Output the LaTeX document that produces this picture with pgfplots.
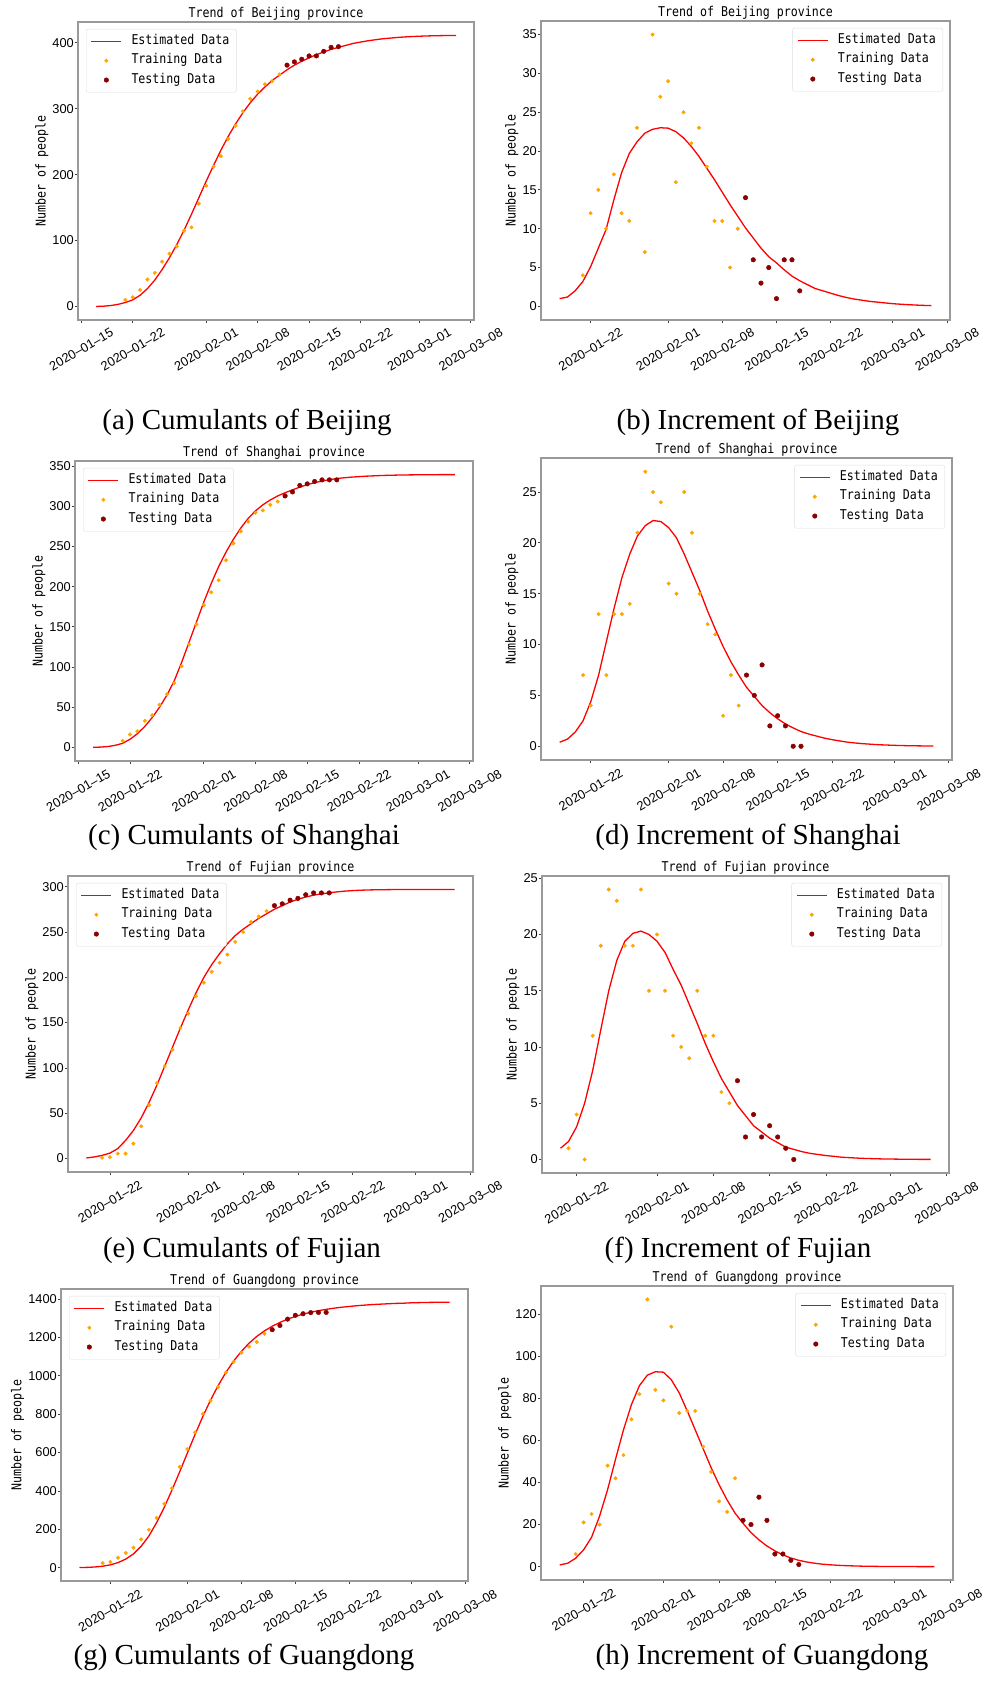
\documentclass[border=0pt]{standalone}
\usepackage{fontspec}
\setmainfont{Liberation Serif}
\newfontfamily\monofont[FakeStretch=0.86]{DejaVu Sans Mono}
\newfontfamily\tickfont{Liberation Sans}
\usepackage{graphicx}
\usepackage{pgfplots}
\pgfplotsset{compat=1.18}

\definecolor{trainorange}{HTML}{FFA500}
\definecolor{testred}{HTML}{8B0000}
\definecolor{framegray}{HTML}{999999}
\definecolor{legendgray}{HTML}{DDDDDD}

\newcommand{\labfont}{\monofont\fontsize{13.5}{15}\selectfont}
\newcommand{\numfont}{\tickfont\fontsize{12.8}{14}\selectfont}
\newcommand{\capfont}{\fontsize{29}{32}\selectfont}
\newcommand{\dl}[3]{\rotatebox{30}{#1\textendash#2\textendash#3}}

% x = days after 2020-01-15
\pgfplotsset{
  trend/.style={
    scale only axis,
    axis line style={framegray, line width=1.1pt},
    tick align=outside,
    xtick pos=left, ytick pos=left,
    major tick length=3.5pt,
    tick style={black!75, line width=0.8pt},
    xtick={0,7,17,24,31,38,46,53},
    xticklabels={\dl{2020}{01}{15},\dl{2020}{01}{22},\dl{2020}{02}{01},\dl{2020}{02}{08},\dl{2020}{02}{15},\dl{2020}{02}{22},\dl{2020}{03}{01},\dl{2020}{03}{08}},
    xticklabel style={font=\numfont, anchor=north, inner sep=4pt},
    yticklabel style={font=\numfont, anchor=east, inner sep=0.5pt, /pgf/number format/assume math mode=true, /pgf/number format/1000 sep={}},
    ylabel={Number of people},
    ylabel style={font=\labfont},
    title style={font=\labfont, at={(0.5,1)}, anchor=base, yshift=-1.5pt},
    legend style={font=\labfont, draw=legendgray, rounded corners=2pt, fill=white, row sep=1.8pt, column sep=7pt,
      inner xsep=4.5pt, inner ysep=3.5pt,
      nodes={inner sep=2.5pt, text height=9.5pt, text depth=3pt}},
    legend cell align=left,
    legend image code/.code={\draw[mark repeat=2,mark phase=2,##1] plot coordinates {(0pt,0pt) (15pt,0pt) (30pt,0pt)};},
    legend entries={Estimated Data, Training Data, Testing Data},
  },
  cum/.style={trend, legend style={at={(0,1)}, anchor=north west, xshift=8pt, yshift=-7pt}},
  inc/.style={trend, legend style={at={(1,1)}, anchor=north east, xshift=-7pt, yshift=-7pt}},
  est/.style={red, line width=1.3pt, no markers},
  train/.style={only marks, mark=*, mark size=1.8pt, draw=trainorange, fill=trainorange},
  test/.style={only marks, mark=*, mark size=2.3pt, draw=testred, fill=testred},
}

\begin{document}
\begin{tikzpicture}[x=1pt,y=1pt]
\useasboundingbox (0,0) rectangle (983,1686);

% (a) Beijing cumulative
\begin{axis}[cum, at={(78pt,1366pt)}, anchor=south west, width=396pt, height=298pt,
  xmin=-0.45, xmax=53.45, ymin=-20.5, ymax=431.5, ytick={0,100,...,400},
  title={Trend of Beijing province}]
\addplot[est] coordinates {(2,0)(3,0.4)(4,1.4)(5,3.2)(6,6)(7,10)(8,17)(9,27)(10,40)(11,56)(12,74)(13,94)(14,116)(15,140)(16,165)(17,190)(18,214)(19,237)(20,258)(21,277)(22,294)(23,309)(24,322)(25,333)(26,343)(27,351)(28,359)(29,366)(30,372)(31,377)(32,382)(33,386)(34,390)(35,393)(36,396)(37,399)(38,401)(39,403)(40,404.5)(41,406)(42,407)(43,408)(44,408.8)(45,409.4)(46,409.9)(47,410.3)(48,410.6)(49,410.8)(50,411)(51,411.1)};
\addplot[train] coordinates {(6,10)(7,14)(8,25)(9,41)(10,51)(11,68)(12,80)(13,91)(14,115)(15,120)(16,156)(17,183)(18,212)(19,228)(20,254)(21,274)(22,296)(23,315)(24,326)(25,337)(26,342)(27,352)};
\addplot[test] coordinates {(28,366)(29,371)(30,375)(31,380)(32,380)(33,387)(34,393)(35,394)};
\end{axis}

% (b) Beijing increment
\begin{axis}[inc, at={(541pt,1366pt)}, anchor=south west, width=409pt, height=299pt,
  xmin=0.6, xmax=53.4, ymin=-1.75, ymax=36.75, ytick={0,5,...,35},
  title={Trend of Beijing province}]
\addplot[est] coordinates {(3,1.0)(4,1.2)(5,2.0)(6,3.2)(7,5.1)(8,7.5)(9,9.9)(10,13.7)(11,17.2)(12,19.7)(13,21.2)(14,22.3)(15,22.8)(16,23.0)(17,22.95)(18,22.5)(19,21.7)(20,20.6)(21,19.3)(22,17.8)(23,16.3)(24,14.7)(25,13.1)(26,11.6)(27,10.1)(28,8.8)(29,7.5)(30,6.4)(31,5.6)(32,4.7)(33,3.9)(34,3.3)(35,2.8)(36,2.3)(37,2.0)(38,1.7)(39,1.4)(40,1.15)(41,0.95)(42,0.8)(43,0.65)(44,0.55)(45,0.45)(46,0.35)(47,0.28)(48,0.22)(49,0.17)(50,0.13)(51,0.1)};
\addplot[train] coordinates {(6,4)(7,12)(8,15)(9,10)(10,17)(11,12)(12,11)(13,23)(14,7)(15,35)(16,27)(17,29)(18,16)(19,25)(20,21)(21,23)(22,18)(23,11)(24,11)(25,5)(26,10)};
\addplot[test] coordinates {(27,14)(28,6)(29,3)(30,5)(31,1)(32,6)(33,6)(34,2)};
\end{axis}

% (c) Shanghai cumulative
\begin{axis}[cum, at={(75pt,925pt)}, anchor=south west, width=398pt, height=300pt,
  xmin=-0.45, xmax=53.45, ymin=-17, ymax=356.5, ytick={0,50,...,350},
  title={Trend of Shanghai province}]
\addplot[est] coordinates {(2,0)(3,0.3)(4,1)(5,2.5)(6,5)(7,10)(8,17)(9,26)(10,37)(11,50)(12,65)(13,83)(14,106)(15,131)(16,156)(17,181)(18,204)(19,225)(20,243)(21,259)(22,273)(23,285)(24,294.5)(25,302)(26,308)(27,313)(28,317)(29,320.5)(30,324)(31,327)(32,329.5)(33,331.5)(34,333.2)(35,334.6)(36,335.6)(37,336.4)(38,337)(39,337.6)(40,338)(41,338.4)(42,338.7)(43,338.9)(44,339.1)(45,339.2)(46,339.3)(47,339.4)(48,339.45)(49,339.5)(50,339.5)(51,339.5)};
\addplot[train] coordinates {(6,8)(7,16)(8,20)(9,33)(10,40)(11,53)(12,66)(13,80)(14,101)(15,128)(16,153)(17,177)(18,193)(19,208)(20,233)(21,254)(22,269)(23,281)(24,292)(25,295)(26,302)(27,306)};
\addplot[test] coordinates {(28,313)(29,318)(30,326)(31,328)(32,331)(33,333)(34,333)(35,333)};
\end{axis}

% (d) Shanghai increment
\begin{axis}[inc, at={(541pt,926pt)}, anchor=south west, width=411pt, height=302pt,
  xmin=0.6, xmax=53.4, ymin=-1.35, ymax=28.35, ytick={0,5,...,25},
  title={Trend of Shanghai province}]
\addplot[est] coordinates {(3,0.4)(4,0.7)(5,1.4)(6,2.5)(7,4.4)(8,7.0)(9,10.3)(10,13.6)(11,16.6)(12,18.9)(13,20.7)(14,21.7)(15,22.2)(16,22.1)(17,21.5)(18,20.5)(19,18.9)(20,17.1)(21,15.3)(22,13.3)(23,11.5)(24,9.8)(25,8.3)(26,7.0)(27,5.8)(28,4.9)(29,4.0)(30,3.3)(31,2.7)(32,2.2)(33,1.8)(34,1.45)(35,1.2)(36,1.0)(37,0.8)(38,0.65)(39,0.52)(40,0.4)(41,0.32)(42,0.25)(43,0.2)(44,0.15)(45,0.12)(46,0.09)(47,0.07)(48,0.05)(49,0.04)(50,0.03)(51,0.02)};
\addplot[train] coordinates {(6,7)(7,4)(8,13)(9,7)(10,13)(11,13)(12,14)(13,21)(14,27)(15,25)(16,24)(17,16)(18,15)(19,25)(20,21)(21,15)(22,12)(23,11)(24,3)(25,7)(26,4)};
\addplot[test] coordinates {(27,7)(28,5)(29,8)(30,2)(31,3)(32,2)(33,0)(34,0)};
\end{axis}

% (e) Fujian cumulative
\begin{axis}[cum, at={(68pt,514pt)}, anchor=south west, width=405pt, height=296pt,
  xmin=1.65, xmax=53.35, ymin=-14.8, ymax=311.7, ytick={0,50,...,300},
  title={Trend of Fujian province}]
\addplot[est] coordinates {(4,0.7)(5,1.8)(6,3.5)(7,6)(8,11)(9,20)(10,31)(11,45)(12,62)(13,81)(14,102)(15,123)(16,144)(17,164)(18,183)(19,200)(20,214)(21,226)(22,237)(23,246)(24,253)(25,259)(26,265)(27,270)(28,275)(29,279)(30,283)(31,286)(32,288.5)(33,290.5)(34,292)(35,293.2)(36,294.2)(37,295)(38,295.6)(39,296)(40,296.3)(41,296.5)(42,296.6)(43,296.7)(44,296.8)(45,296.8)(46,296.9)(47,296.9)(48,296.9)(49,296.9)(50,296.9)(51,296.9)};
\addplot[train] coordinates {(6,1)(7,1.5)(8,5.5)(9,5.5)(10,16.5)(11,35.6)(12,59)(13,83)(14,102)(15,120)(16,144)(17,160)(18,179)(19,194)(20,206)(21,216)(22,225)(23,239)(24,250)(25,261)(26,267)(27,273)};
\addplot[test] coordinates {(28,279)(29,281)(30,285)(31,287)(32,291)(33,293)(34,293)(35,293)};
\end{axis}

% (f) Fujian increment
\begin{axis}[inc, at={(542pt,513pt)}, anchor=south west, width=407pt, height=297pt,
  xmin=2.7, xmax=53.3, ymin=-1.2, ymax=25.2, ytick={0,5,...,25},
  title={Trend of Fujian province}]
\addplot[est] coordinates {(5,1.0)(6,1.6)(7,2.9)(8,5.0)(9,7.9)(10,11.5)(11,15.0)(12,17.7)(13,19.4)(14,20.1)(15,20.3)(16,20.0)(17,19.4)(18,18.4)(19,16.9)(20,15.5)(21,13.8)(22,12.1)(23,10.3)(24,8.7)(25,7.2)(26,6.0)(27,4.8)(28,3.9)(29,3.0)(30,2.45)(31,1.9)(32,1.5)(33,1.1)(34,0.9)(35,0.7)(36,0.55)(37,0.45)(38,0.35)(39,0.28)(40,0.2)(41,0.16)(42,0.12)(43,0.09)(44,0.07)(45,0.05)(46,0.04)(47,0.03)(48,0.02)(49,0.015)(50,0.01)(51,0.01)};
\addplot[train] coordinates {(6,1)(7,4)(8,0)(9,11)(10,19)(11,24)(12,23)(13,19)(14,19)(15,24)(16,15)(17,20)(18,15)(19,11)(20,10)(21,9)(22,15)(23,11)(24,11)(25,6)(26,5)};
\addplot[test] coordinates {(27,7)(28,2)(29,4)(30,2)(31,3)(32,2)(33,1)(34,0)};
\end{axis}

% (g) Guangdong cumulative
\begin{axis}[cum, at={(61pt,105pt)}, anchor=south west, width=407pt, height=292pt,
  xmin=0.6, xmax=53.4, ymin=-69, ymax=1452, ytick={0,200,...,1400},
  title={Trend of Guangdong province}]
\addplot[est] coordinates {(3,1)(4,2)(5,4)(6,8)(7,15)(8,27)(9,45)(10,72)(11,112)(12,165)(13,235)(14,315)(15,405)(16,500)(17,598)(18,695)(19,788)(20,873)(21,950)(22,1018)(23,1077)(24,1127)(25,1170)(26,1205)(27,1234)(28,1258)(29,1278)(30,1295)(31,1309)(32,1321)(33,1331)(34,1339)(35,1346)(36,1352)(37,1357)(38,1361)(39,1365)(40,1368)(41,1371)(42,1373)(43,1375)(44,1377)(45,1378)(46,1380)(47,1381)(48,1382)(49,1382.5)(50,1383)(51,1383)};
\addplot[train] coordinates {(6,24)(7,30)(8,52)(9,77)(10,104)(11,148)(12,198)(13,260)(14,333)(15,414)(16,526)(17,618)(18,705)(19,802)(20,870)(21,942)(22,1017)(23,1073)(24,1119)(25,1152)(26,1176)(27,1219)};
\addplot[test] coordinates {(28,1240)(29,1262)(30,1295)(31,1315)(32,1323)(33,1329)(34,1330)(35,1330)};
\end{axis}

% (h) Guangdong increment
\begin{axis}[inc, at={(541pt,106pt)}, anchor=south west, width=412pt, height=294pt,
  xmin=1.65, xmax=53.35, ymin=-6.35, ymax=133.35, ytick={0,20,...,120},
  title={Trend of Guangdong province}]
\addplot[est] coordinates {(4,0.8)(5,1.6)(6,4)(7,8)(8,14)(9,24)(10,36.5)(11,51)(12,65)(13,77)(14,86)(15,91)(16,92.6)(17,92.4)(18,88.8)(19,82.5)(20,74)(21,65)(22,56)(23,47)(24,38.9)(25,31.7)(26,25.4)(27,20.6)(28,16.2)(29,12.7)(30,9.8)(31,7.5)(32,5.6)(33,4.1)(34,3.0)(35,2.2)(36,1.6)(37,1.15)(38,0.85)(39,0.62)(40,0.45)(41,0.32)(42,0.22)(43,0.16)(44,0.11)(45,0.08)(46,0.05)(47,0.035)(48,0.025)(49,0.015)(50,0.01)(51,0.01)};
\addplot[train] coordinates {(6,6)(7,21)(8,25)(9,20)(10,48)(11,42)(12,53)(13,70)(14,82)(15,127)(16,84)(17,79)(18,114)(19,73)(20,74)(21,74)(22,57)(23,45)(24,31)(25,26)(26,42)};
\addplot[test] coordinates {(27,22)(28,20)(29,33)(30,22)(31,6)(32,6)(33,3)(34,1)};
\end{axis}

% sub-captions
\node[font=\capfont] at (247,1264) {(a) Cumulants of Beijing};
\node[font=\capfont] at (758,1264) {(b) Increment of Beijing};
\node[font=\capfont] at (244,849) {(c) Cumulants of Shanghai};
\node[font=\capfont] at (748,849) {(d) Increment of Shanghai};
\node[font=\capfont] at (242,436) {(e) Cumulants of Fujian};
\node[font=\capfont] at (738,436) {(f) Increment of Fujian};
\node[font=\capfont] at (244,29) {(g) Cumulants of Guangdong};
\node[font=\capfont] at (762,29) {(h) Increment of Guangdong};
\end{tikzpicture}
\end{document}
